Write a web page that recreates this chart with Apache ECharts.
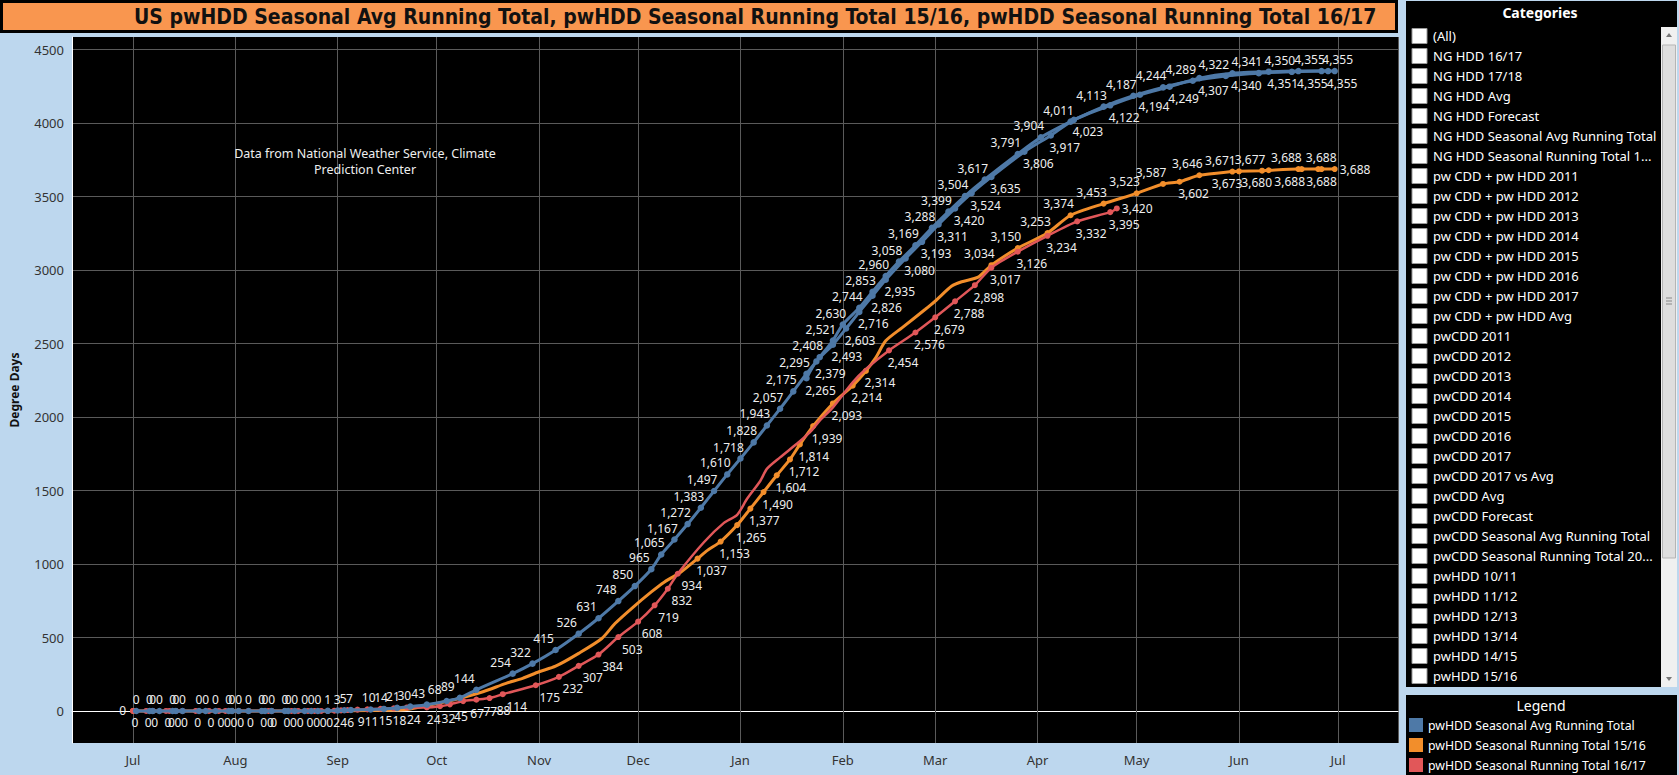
<!DOCTYPE html>
<html><head><meta charset="utf-8">
<script src="https://cdn.jsdelivr.net/npm/echarts@6/dist/echarts.min.js"></script>
<style>html,body{margin:0;padding:0;background:#bdd7ee;overflow:hidden}#c{width:1679px;height:775px}</style>
</head><body><div id="c"></div>
<script>
// ---------- DATA ----------
const monthNames = ['Jan','Feb','Mar','Apr','May','Jun','Jul','Aug','Sep','Oct','Nov','Dec'];
const chartTitle = 'US pwHDD Seasonal Avg Running Total, pwHDD Seasonal Running Total 15/16, pwHDD Seasonal Running Total 16/17';
const yAxisTitle = 'Degree Days';
const noteLines = ['Data from National Weather Service, Climate', 'Prediction Center'];
const seriesNames = ['pwHDD Seasonal Avg Running Total', 'pwHDD Seasonal Running Total 15/16', 'pwHDD Seasonal Running Total 16/17'];
const categories = ['(All)','NG HDD 16/17','NG HDD 17/18','NG HDD Avg','NG HDD Forecast','NG HDD Seasonal Avg Running Total','NG HDD Seasonal Running Total 1...','pw CDD + pw HDD 2011','pw CDD + pw HDD 2012','pw CDD + pw HDD 2013','pw CDD + pw HDD 2014','pw CDD + pw HDD 2015','pw CDD + pw HDD 2016','pw CDD + pw HDD 2017','pw CDD + pw HDD Avg','pwCDD 2011','pwCDD 2012','pwCDD 2013','pwCDD 2014','pwCDD 2015','pwCDD 2016','pwCDD 2017','pwCDD 2017 vs Avg','pwCDD Avg','pwCDD Forecast','pwCDD Seasonal Avg Running Total','pwCDD Seasonal Running Total 20...','pwHDD 10/11','pwHDD 11/12','pwHDD 12/13','pwHDD 13/14','pwHDD 14/15','pwHDD 15/16'];

// Seasonal average running total (upper-labelled marks)
const avgDatesA = ['2016-07-01','2016-07-02','2016-07-06','2016-07-07','2016-07-09','2016-07-13','2016-07-14','2016-07-16',
 '2016-07-21','2016-07-23','2016-07-26','2016-07-30','2016-07-31','2016-08-02','2016-08-05','2016-08-09','2016-08-10','2016-08-12','2016-08-16','2016-08-17','2016-08-19','2016-08-22','2016-08-24','2016-08-26',
 '2016-08-29','2016-09-01','2016-09-03','2016-09-05','2016-09-11','2016-09-15','2016-09-19','2016-09-23','2016-09-28','2016-10-04','2016-10-08','2016-10-13',
 '2016-10-24','2016-10-30','2016-11-06','2016-11-13','2016-11-19','2016-11-25','2016-11-30','2016-12-05','2016-12-08','2016-12-12','2016-12-16','2016-12-20','2016-12-24','2016-12-28',
 '2017-01-01','2017-01-05','2017-01-09','2017-01-13','2017-01-17','2017-01-21','2017-01-25','2017-01-29','2017-02-01','2017-02-06','2017-02-10','2017-02-14','2017-02-18','2017-02-23','2017-02-28',
 '2017-03-05','2017-03-10','2017-03-16','2017-03-26','2017-04-02','2017-04-11','2017-04-21','2017-04-30','2017-05-09','2017-05-18','2017-05-28','2017-06-07','2017-06-17','2017-06-26','2017-06-30'];
const avgValuesA = [0,0,0,0,0,0,0,0,
 0,0,0,0,0,0,0,0,0,0,0,0,0,0,0,0,
 1,3,5,7,10,14,21,30,43,68,89,144,
 254,322,415,526,631,748,850,965,1065,1167,1272,1383,1497,1610,
 1718,1828,1943,2057,2175,2295,2408,2521,2630,2744,2853,2960,3058,3169,3288,
 3399,3504,3617,3791,3904,4011,4113,4187,4244,4289,4322,4341,4350,4355,4355];

// Seasonal average running total (lower-labelled marks)
const avgDatesB = ['2017-01-21','2017-01-24','2017-01-29','2017-02-02','2017-02-06','2017-02-10','2017-02-14','2017-02-20','2017-02-25','2017-03-02','2017-03-07','2017-03-12','2017-03-18','2017-03-28','2017-04-05','2017-04-12','2017-04-23','2017-05-02','2017-05-11','2017-05-20','2017-05-30','2017-06-10','2017-06-19','2017-06-28'];
const avgValuesB = [2265,2379,2493,2603,2716,2826,2935,3080,3193,3311,3420,3524,3635,3806,3917,4023,4122,4194,4249,4307,4340,4351,4355,4355];

// Seasonal running total 15/16
const s1516Dates = ['2016-07-01','2016-08-20','2016-09-05','2016-09-15','2016-09-22','2016-09-29','2016-10-06','2016-10-15','2016-10-22','2016-10-27','2016-11-01','2016-11-06','2016-11-13','2016-11-20','2016-11-24','2016-11-29','2016-12-05','2016-12-09','2016-12-14',
 '2016-12-19','2016-12-22','2016-12-26','2016-12-31','2017-01-04','2017-01-08','2017-01-12','2017-01-16','2017-01-19','2017-01-23','2017-01-29','2017-02-04','2017-02-08',
 '2017-02-11','2017-02-14','2017-02-19','2017-02-26','2017-03-01','2017-03-06','2017-03-09','2017-03-14',
 '2017-03-18','2017-03-26','2017-04-04','2017-04-11','2017-04-21','2017-05-01','2017-05-09','2017-05-14','2017-05-20','2017-05-30','2017-06-01','2017-06-08','2017-06-10','2017-06-19','2017-06-20','2017-06-25','2017-06-26','2017-06-30'];
const s1516Values = [0,0,1,5,10,41,75,131,188,222,267,305,392,493,595,697,810,878,946,
 1037,1093,1153,1265,1377,1490,1604,1712,1814,1939,2093,2214,2314,
 2405,2519,2609,2734,2790,2892,2921,2953,
 3034,3150,3253,3374,3453,3523,3587,3602,3646,3671,3673,3677,3680,3688,3688,3688,3688,3688];

// Seasonal running total 16/17
const s1617Dates = ['2016-07-01','2016-07-05','2016-07-07','2016-07-11','2016-07-12','2016-07-14','2016-07-16',
 '2016-07-20','2016-07-24','2016-07-27','2016-07-29','2016-07-31','2016-08-02','2016-08-05','2016-08-09','2016-08-11','2016-08-12','2016-08-16','2016-08-18','2016-08-20','2016-08-23','2016-08-25','2016-08-27',
 '2016-08-29','2016-08-31','2016-09-02','2016-09-04','2016-09-07','2016-09-10','2016-09-14','2016-09-18','2016-09-22','2016-09-28','2016-10-02','2016-10-05','2016-10-09','2016-10-13','2016-10-17','2016-10-21','2016-10-31',
 '2016-11-07','2016-11-13','2016-11-19','2016-11-25','2016-12-01','2016-12-06','2016-12-10','2016-12-13',
 '2016-12-21','2016-12-27','2016-12-31','2017-01-03','2017-01-07','2017-01-09','2017-01-13','2017-01-18','2017-01-22','2017-01-25','2017-01-29','2017-02-04','2017-02-08',
 '2017-02-15','2017-02-23','2017-03-01','2017-03-07','2017-03-13','2017-03-18','2017-03-26','2017-04-04','2017-04-13','2017-04-23','2017-04-25'];
const s1617Values = [0,0,0,0,0,0,0,
 0,0,0,0,0,0,0,0,0,0,0,0,0,0,0,0,
 0,2,4,6,9,11,15,18,24,24,32,45,67,77,88,114,175,
 232,307,384,503,608,719,832,934,
 1150,1280,1335,1444,1565,1648,1726,1817,1896,1976,2066,2236,2327,
 2454,2576,2679,2788,2898,3017,3126,3234,3332,3395,3420];

// ---------- LABEL PLACEMENT (style, parallel to the data) ----------
// ul = above-left, lr = below-right, dl = below-left, u = above, d = below, l = left, r = right, '' = unmarked
const labelA = avgValuesA.map((v,i)=> i===0 ? '' : (i===avgValuesA.length-1 ? 'u' : 'ul'));
const labelB = avgValuesB.map(()=> 'lr');
const label1516 = ['l','','','','','','','','','','','','','','','','','','',
 'lr','','lr','lr','lr','lr','lr','lr','lr','lr','lr','lr','lr',
 '','','','','','','','',
 'ul','ul','ul','ul','ul','ul','ul','lr','ul','ul','dl','ul','dl','ul','dl','u','d','r'];
const label1617 = s1617Values.map((v,i)=>{
  const d = s1617Dates[i];
  if (d > '2016-12-13' && d < '2017-02-15') return '';
  if (i === s1617Values.length-1) return 'r';
  return 'lr';
});

// ---------- STYLE ----------
const BLUE = '#4e79a7', ORANGE = '#f28e2b', RED = '#e15759';
const LBL_FONT = '"Noto Sans", "DejaVu Sans", sans-serif';
const NARROW = '"Liberation Sans Narrow", "DejaVu Sans Condensed", "Liberation Sans", sans-serif';

function labelFor(code, v) {
  const dx = Math.min(12, v / 5);
  const base = { show: true, color: '#eeeeee', fontSize: 12, fontFamily: LBL_FONT,
    formatter: p => p.value[1].toLocaleString('en-US') };
  switch (code) {
    case 'ul': return Object.assign(base, { position: 'inside', offset: [-dx, -11.5] });
    case 'lr': return Object.assign(base, { position: 'inside', offset: [dx + 2, 12] });
    case 'dl': return Object.assign(base, { position: 'inside', offset: [-12, 12] });
    case 'u':  return Object.assign(base, { position: 'inside', offset: [3, -11.5] });
    case 'd':  return Object.assign(base, { position: 'inside', offset: [0, 12] });
    case 'l':  return Object.assign(base, { position: 'left', distance: 4 });
    case 'r':  return Object.assign(base, { position: 'right', distance: 2 });
  }
  return { show: false };
}
function buildData(dates, values, codes) {
  return dates.map((d, i) => {
    const item = { value: [d, values[i]], label: labelFor(codes[i], values[i]) };
    if (!codes[i]) item.symbol = 'none';
    return item;
  });
}
function lineSeries(name, data, color, width, sym, z) {
  return { name, type: 'line', xAxisIndex: 0, yAxisIndex: 0, data, smooth: 0.25,
    symbol: 'circle', symbolSize: sym, showSymbol: true, showAllSymbol: true,
    lineStyle: { color, width }, itemStyle: { color }, z,
    emphasis: { disabled: true }, silent: true, animation: false };
}

// ---------- LAYOUT ----------
const DAY = 86400000;
const jul1 = new Date(2016, 6, 1).getTime();
const PX_DAY = 3.3014;
const plot = { left: 72, top: 37, width: 1326, height: 706 };
const julX = 133;

const graphics = [];
const center = { align: 'center', verticalAlign: 'middle', textAlign: 'center', textVerticalAlign: 'middle' };
const leftMid = { align: 'left', verticalAlign: 'middle', textAlign: 'left', textVerticalAlign: 'middle' };
graphics.push({ type: 'rect', z: -10, shape: { x: plot.left, y: plot.top, width: plot.width, height: plot.height }, style: { fill: '#000' } });
graphics.push({ type: 'rect', z: 5, shape: { x: 1.5, y: 1.5, width: 1395, height: 30 }, style: { fill: '#f9964f', stroke: '#000', lineWidth: 3 } });
graphics.push({ type: 'text', z: 6, x: 134, y: 17, style: Object.assign({ text: chartTitle, font: 'bold 21px ' + NARROW, fill: '#111' }, leftMid) });
graphics.push({ type: 'text', z: 6, x: 14, y: 390, rotation: Math.PI / 2, style: Object.assign({ text: yAxisTitle, font: 'bold 12px ' + LBL_FONT, fill: '#111' }, center) });
noteLines.forEach((t, i) => graphics.push({ type: 'text', z: 6, x: 365, y: 153 + i * 16.5, style: Object.assign({ text: t, font: '12.5px ' + LBL_FONT, fill: '#eeeeee' }, center) }));

// categories panel
graphics.push({ type: 'rect', z: 5, shape: { x: 1406, y: 1, width: 271, height: 686 }, style: { fill: '#000' } });
graphics.push({ type: 'text', z: 6, x: 1540, y: 12, style: Object.assign({ text: 'Categories', font: 'bold 14px ' + LBL_FONT, fill: '#fff' }, center) });
categories.forEach((c, i) => {
  const y = 36 + i * 20;
  graphics.push({ type: 'rect', z: 6, shape: { x: 1412, y: y - 7.5, width: 15, height: 15 }, style: { fill: '#fff', stroke: '#9a9a9a', lineWidth: 1 } });
  graphics.push({ type: 'text', z: 6, x: 1433, y: y, style: Object.assign({ text: c, font: '13px ' + LBL_FONT, fill: '#fff' }, leftMid) });
});
graphics.push({ type: 'rect', z: 6, shape: { x: 1661, y: 27, width: 16, height: 660 }, style: { fill: '#f0f0f0' } });
graphics.push({ type: 'rect', z: 7, shape: { x: 1662.5, y: 45, width: 13, height: 513 }, style: { fill: '#dedede', stroke: '#b5b5b5', lineWidth: 1 } });
[0, 3, 6].forEach(o => graphics.push({ type: 'line', z: 8, shape: { x1: 1666, y1: 298 + o, x2: 1672, y2: 298 + o }, style: { stroke: '#888', lineWidth: 1 } }));
graphics.push({ type: 'polygon', z: 8, shape: { points: [[1666, 37], [1672, 37], [1669, 33]] }, style: { fill: '#777' } });
graphics.push({ type: 'polygon', z: 8, shape: { points: [[1666, 677], [1672, 677], [1669, 681]] }, style: { fill: '#777' } });

// legend panel
graphics.push({ type: 'rect', z: 5, shape: { x: 1406, y: 695, width: 271, height: 80 }, style: { fill: '#000' } });
graphics.push({ type: 'text', z: 6, x: 1541, y: 705, style: Object.assign({ text: 'Legend', font: '14px ' + LBL_FONT, fill: '#fff' }, center) });
[BLUE, ORANGE, RED].forEach((col, i) => {
  const y = 725 + i * 20;
  graphics.push({ type: 'rect', z: 6, shape: { x: 1409, y: y - 7, width: 14, height: 14 }, style: { fill: col } });
  graphics.push({ type: 'text', z: 6, x: 1428, y: y, style: Object.assign({ text: seriesNames[i], font: '12.3px ' + LBL_FONT, fill: '#fff' }, leftMid) });
});

const chart = echarts.init(document.getElementById('c'), null, { renderer: 'svg' });
chart.setOption({
  backgroundColor: '#bdd7ee',
  animation: false,
  grid: [
    { left: plot.left, top: plot.top, width: plot.width, height: plot.height, show: false },
    { left: plot.left, top: 49.6, width: plot.width, height: 661.4, show: false }
  ],
  xAxis: [
    { type: 'time', gridIndex: 0,
      min: jul1 - (julX - plot.left) / PX_DAY * DAY,
      max: jul1 + (plot.left + plot.width - julX) / PX_DAY * DAY,
      minInterval: 28 * DAY, maxInterval: 31 * DAY,
      axisLine: { show: true, lineStyle: { color: '#ffffff', width: 1 } },
      axisTick: { show: true, length: 6, lineStyle: { color: '#555' } },
      axisLabel: { color: '#333', fontSize: 13, fontFamily: LBL_FONT, margin: 10, showMinLabel: false, showMaxLabel: false,
        hideOverlap: false, formatter: v => monthNames[new Date(v).getMonth()] },
      splitLine: { show: true, lineStyle: { color: '#5a5a5a', width: 1 } } },
    { type: 'value', gridIndex: 1, min: 0, max: 1, show: false }
  ],
  yAxis: [
    { type: 'value', gridIndex: 0, min: -218, max: 4587,
      axisLine: { show: true, lineStyle: { color: '#ffffff', width: 1 } },
      axisTick: { show: false }, axisLabel: { show: false }, splitLine: { show: false } },
    { type: 'value', gridIndex: 1, min: 0, max: 4500, interval: 500,
      axisLine: { show: false }, axisTick: { show: false },
      axisLabel: { color: '#333', fontSize: 13, fontFamily: LBL_FONT, margin: 8, formatter: v => String(v) },
      splitLine: { show: true, lineStyle: { color: '#5a5a5a', width: 1 } } }
  ],
  graphic: { elements: graphics },
  series: [
    lineSeries(seriesNames[1], buildData(s1516Dates, s1516Values, label1516), ORANGE, 3, 6, 3),
    lineSeries(seriesNames[2], buildData(s1617Dates, s1617Values, label1617), RED, 2.5, 6, 4),
    lineSeries(seriesNames[0] + ' ', buildData(avgDatesB, avgValuesB, labelB), BLUE, 3, 6.5, 5),
    lineSeries(seriesNames[0], buildData(avgDatesA, avgValuesA, labelA), BLUE, 3, 6.5, 6)
  ]
});
</script></body></html>
